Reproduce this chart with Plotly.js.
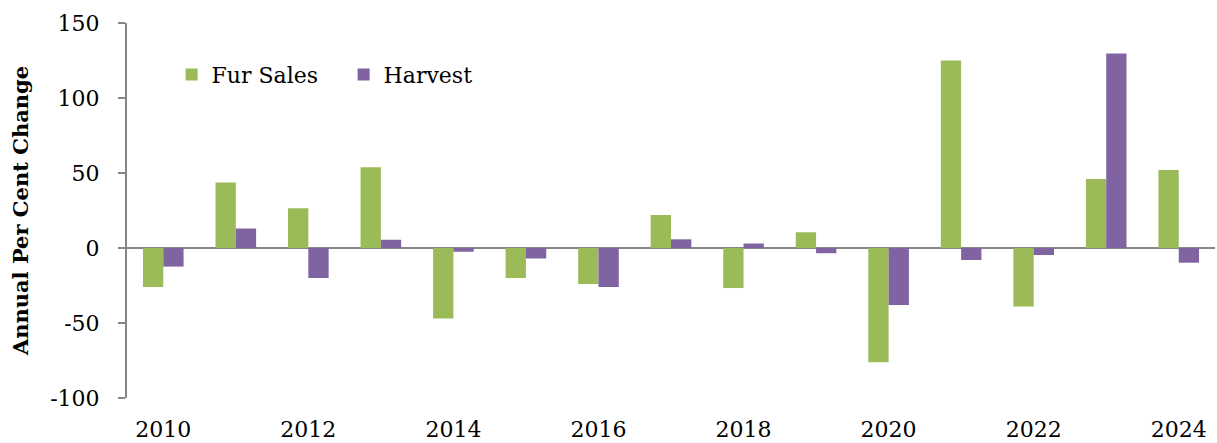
<!DOCTYPE html>
<html>
<head>
<meta charset="utf-8">
<script src="https://cdn.plot.ly/plotly-3.0.1.min.js"></script>
<style>html,body{margin:0;padding:0;background:#fff;}#chart{width:1217px;height:443px;}</style>
</head>
<body>
<div id="chart"></div>
<script>
const years = ['2010','2011','2012','2013','2014','2015','2016','2017','2018','2019','2020','2021','2022','2023','2024'];
const furSales = [-26, 43.6, 26.5, 53.8, -47, -20, -24, 22, -26.7, 10.5, -76.2, 125, -39, 46, 52];
const harvest = [-12.4, 13, -20, 5.5, -2.5, -7, -26, 5.8, 3, -3.5, -38, -8, -4.7, 129.6, -9.8];
const xTickLabels = ['2010','2012','2014','2016','2018','2020','2022','2024'];
const yTicks = [-100, -50, 0, 50, 100, 150];
const yTickLabels = ['-100', '-50', '0', '50', '100', '150'];

const FONT = 'DejaVu Serif, Liberation Serif, serif';
const traces = [
  {type:'bar', name:'Fur Sales', x:years, y:furSales, marker:{color:'#9BBB59'}},
  {type:'bar', name:'Harvest', x:years, y:harvest, marker:{color:'#8064A2'}}
];
const layout = {
  width:1217, height:443,
  margin:{l:127, r:2, t:23, b:45},
  paper_bgcolor:'#fff', plot_bgcolor:'#fff',
  barmode:'group', bargap:0.44, bargroupgap:0,
  font:{family:FONT, color:'#000', size:22},
  showlegend:true,
  legend:{orientation:'h', x:0.041, y:0.918, xanchor:'left', yanchor:'top',
          font:{family:FONT, size:22}, bgcolor:'rgba(0,0,0,0)', entrywidth:127, entrywidthmode:'pixels'},
  xaxis:{type:'category', tickmode:'array', tickvals:xTickLabels, ticktext:xTickLabels,
         showline:false, ticks:'', showgrid:false, zeroline:false, ticklabelstandoff:16,
         tickfont:{family:FONT, size:22}, fixedrange:true},
  yaxis:{range:[-100,150], tickmode:'array', tickvals:yTicks, ticktext:yTickLabels, ticks:'outside', ticklen:7, tickwidth:2, tickcolor:'#868686',
         showline:true, linecolor:'#868686', linewidth:2, showgrid:false,
         zeroline:true, zerolinecolor:'#868686', zerolinewidth:2, ticklabelstandoff:14,
         tickfont:{family:FONT, size:22},
         title:{text:'<b>Annual Per Cent Change</b>', font:{family:FONT, size:21}, standoff:16}}
};
Plotly.newPlot('chart', traces, layout, {displayModeBar:false, staticPlot:true});
</script>
</body>
</html>
